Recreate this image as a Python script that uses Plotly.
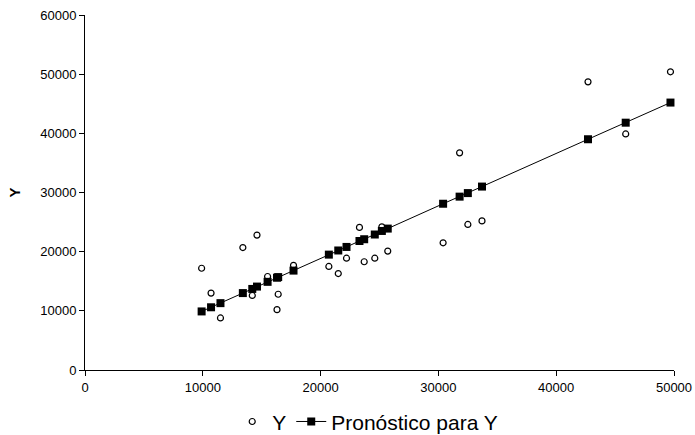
import plotly.graph_objects as go

x_vals = [9900, 10700, 11500, 13400, 14200, 14600, 15500, 16300, 16400, 17700,
          20700, 21500, 22200, 23300, 23700, 24600, 25200, 25700, 30400, 31800,
          32500, 33700, 42700, 45900, 49700]
y_obs = [17200, 13000, 8800, 20700, 12600, 22800, 15800, 10200, 12800, 17700,
         17500, 16300, 18900, 24100, 18300, 18900, 24200, 20100, 21500, 36700,
         24600, 25200, 48700, 39900, 50400]
y_pred = [9900, 10600, 11300, 13000, 13700, 14100, 14900, 15600, 15700, 16800,
          19500, 20200, 20800, 21800, 22100, 22900, 23500, 23900, 28100, 29300,
          29900, 31000, 39000, 41800, 45200]

x_ticks = [0, 10000, 20000, 30000, 40000, 50000]
y_ticks = [0, 10000, 20000, 30000, 40000, 50000, 60000]

font_family = "Liberation Sans, Arial, sans-serif"

fig = go.Figure()
fig.add_trace(go.Scatter(
    x=x_vals, y=y_obs, mode="markers", name="Y",
    marker=dict(symbol="circle-open", size=6, color="black", line=dict(width=1.2, color="black")),
    cliponaxis=False,
))
fig.add_trace(go.Scatter(
    x=x_vals, y=y_pred, mode="lines+markers", name="Pronóstico para Y",
    line=dict(color="black", width=1),
    marker=dict(symbol="square", size=8, color="black"),
    cliponaxis=False,
))

fig.update_layout(
    width=695, height=435,
    margin=dict(l=85, r=21, t=15, b=65, autoexpand=False),
    paper_bgcolor="white", plot_bgcolor="white",
    font=dict(family=font_family, color="black", size=12),
    showlegend=True,
    legend=dict(
        orientation="h", x=0.48, xanchor="center", y=-0.146, yanchor="middle",
        font=dict(size=21, family=font_family), itemwidth=30,
        bgcolor="rgba(0,0,0,0)", traceorder="normal", tracegroupgap=0,
    ),
)
fig.update_xaxes(
    range=[0, 50000], tickvals=x_ticks, ticktext=[str(v) for v in x_ticks],
    showgrid=False, zeroline=False, showline=True, linecolor="black", linewidth=1,
    ticks="outside", ticklen=5, tickcolor="black", tickwidth=1,
    tickfont=dict(size=13), automargin=False, ticklabeloverflow="allow",
)
fig.update_yaxes(
    range=[0, 60000], tickvals=y_ticks, ticktext=[str(v) for v in y_ticks],
    showgrid=False, zeroline=False, showline=True, linecolor="black", linewidth=1,
    ticks="outside", ticklen=5, tickcolor="black", tickwidth=1,
    tickfont=dict(size=13), automargin=False, ticklabeloverflow="allow",
    title=dict(text="<b>Y</b>", font=dict(size=15), standoff=15),
)

fig.write_html(
    "out.html",
    config={"displayModeBar": False},
    post_script="document.body.style.margin='0';document.body.style.overflow='hidden';",
)
